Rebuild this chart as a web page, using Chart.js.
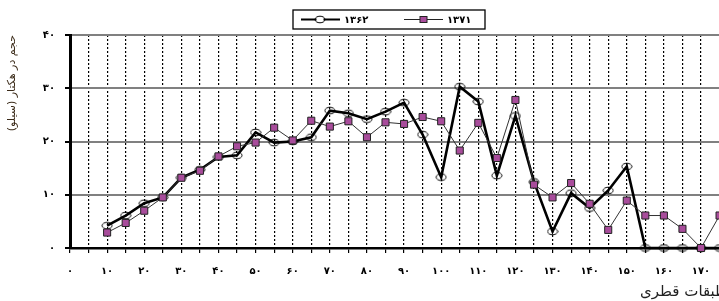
<!DOCTYPE html>
<html><head><meta charset="utf-8">
<script src="https://cdn.jsdelivr.net/npm/chart.js@4/dist/chart.umd.min.js"></script>
<style>
html,body{margin:0;padding:0;background:#fff;overflow:hidden;width:719px;height:301px}
#wrap{position:relative;width:760px;height:301px}
</style></head>
<body><div id="wrap"><canvas id="c"></canvas></div>
<script>
const diameterClasses = [10,15,20,25,30,35,40,45,50,55,60,65,70,75,80,85,90,95,100,105,110,115,120,125,130,135,140,145,150,155,160,165,170,175];
const volume1362 = [4.2,6.1,8.4,9.5,13.2,14.7,17.1,17.4,21.7,19.8,20.0,20.8,25.8,25.3,24.2,25.6,27.3,21.3,13.3,30.3,27.5,13.6,24.8,12.4,3.1,10.3,7.5,10.8,15.3,0,0,0,0,0];
const volume1371 = [2.9,4.7,7.0,9.5,13.2,14.5,17.2,19.1,19.8,22.6,20.2,23.9,22.8,23.8,20.8,23.6,23.3,24.6,23.8,18.3,23.5,16.9,27.8,11.9,9.5,12.2,8.3,3.4,8.9,6.1,6.1,3.6,0,6.1];
const seriesNames = ['۱۳۶۲','۱۳۷۱'];
const xTickLabels = ['۰','۱۰','۲۰','۳۰','۴۰','۵۰','۶۰','۷۰','۸۰','۹۰','۱۰۰','۱۱۰','۱۲۰','۱۳۰','۱۴۰','۱۵۰','۱۶۰','۱۷۰'];
const yTickLabels = ['۰','۱۰','۲۰','۳۰','۴۰'];
const xTitle = 'طبقات قطری';
const yTitle = 'حجم در هکتار (سیلو)';

const FONT = '"DejaVu Sans", sans-serif';
const SQ_COLOR = '#a84c9b';

const ell = document.createElement('canvas');
ell.width = 12; ell.height = 9;
(function(){const g=ell.getContext('2d');g.strokeStyle='#000';g.lineWidth=1;g.beginPath();g.ellipse(6,4.5,5,3.3,0,0,Math.PI*2);g.stroke();})();

const pts = arr => diameterClasses.map((d,i)=>({x:d,y:arr[i]}));

const legendPlugin = {
  id:'boxLegend',
  afterDraw(chart){
    const ctx = chart.ctx;
    const L = 293, T = 10, W = 192, H = 19;
    ctx.save();
    ctx.strokeStyle = '#000'; ctx.lineWidth = 1.3;
    ctx.strokeRect(L, T, W, H);
    const cy = T + H/2;
    ctx.beginPath(); ctx.strokeStyle='#000'; ctx.lineWidth=2; ctx.moveTo(L+8,cy); ctx.lineTo(L+47,cy); ctx.stroke();
    ctx.fillStyle='#fff'; ctx.beginPath(); ctx.ellipse(L+27,cy,3.5,2.8,0,0,Math.PI*2); ctx.fill();
    ctx.drawImage(ell, L+27-6, cy-4.5);
    ctx.fillStyle='#000'; ctx.font='bold 10px '+FONT; ctx.textBaseline='middle'; ctx.textAlign='left';
    ctx.fillText(seriesNames[0], L+51, cy+1);
    ctx.beginPath(); ctx.strokeStyle='#222'; ctx.lineWidth=1; ctx.moveTo(L+111,cy); ctx.lineTo(L+150,cy); ctx.stroke();
    ctx.fillStyle=SQ_COLOR; ctx.fillRect(L+127,cy-3,7,6); ctx.strokeStyle='#222'; ctx.strokeRect(L+127,cy-3,7,6);
    ctx.fillStyle='#000';
    ctx.fillText(seriesNames[1], L+154, cy+1);
    ctx.restore();
  }
};

new Chart(document.getElementById('c'), {
  type:'line',
  data:{
    datasets:[
      {label:seriesNames[0], data:pts(volume1362), borderColor:'#000', borderWidth:2.6, pointStyle:ell, pointRadius:5, tension:0, order:1, clip:false},
      {label:seriesNames[1], data:pts(volume1371), borderColor:'#333', borderWidth:1, pointStyle:'rect', pointRadius:5, pointBackgroundColor:SQ_COLOR, pointBorderColor:'#222', pointBorderWidth:1, backgroundColor:SQ_COLOR, tension:0, order:0, clip:false}
    ]
  },
  options:{
    responsive:true, maintainAspectRatio:false, animation:false,
    layout:{padding:{top:35,right:33,left:0,bottom:0}},
    plugins:{legend:{display:false}, tooltip:{enabled:false}},
    scales:{
      x:{type:'linear', min:0, max:177,
        afterFit:s => { s.height = 53; },
        ticks:{stepSize:5, autoSkip:false, includeBounds:false, maxRotation:0, padding:12, color:'#000', font:{family:FONT, size:10, weight:'bold'},
          callback:v => (v%10===0 ? xTickLabels[v/10] : '')},
        grid:{color:c => (c.tick && c.tick.value===0 ? 'rgba(0,0,0,0)' : '#000'), lineWidth:1.2, tickColor:'#000', tickLength:5, tickBorderDash:[]},
        border:{color:'#000', width:2.5, dash:[2,2]},
        title:{display:true, text:xTitle, align:'end', color:'#222', font:{family:FONT, size:15}, padding:{top:2,bottom:0}}
      },
      y:{min:0, max:40,
        afterFit:s => { s.width = 70; },
        ticks:{stepSize:10, padding:10, color:'#000', font:{family:FONT, size:10, weight:'bold'},
          callback:v => yTickLabels[v/10]},
        grid:{color:c => (c.tick && c.tick.value===0 ? 'rgba(0,0,0,0)' : '#808080'), lineWidth:2, tickColor:'#000', tickLength:5},
        border:{color:'#000', width:3},
        title:{display:true, text:yTitle, align:'end', color:'#3a2a18', font:{family:FONT, size:11}, padding:{top:6,bottom:0}}
      }
    }
  },
  plugins:[legendPlugin]
});
</script>
</body></html>
